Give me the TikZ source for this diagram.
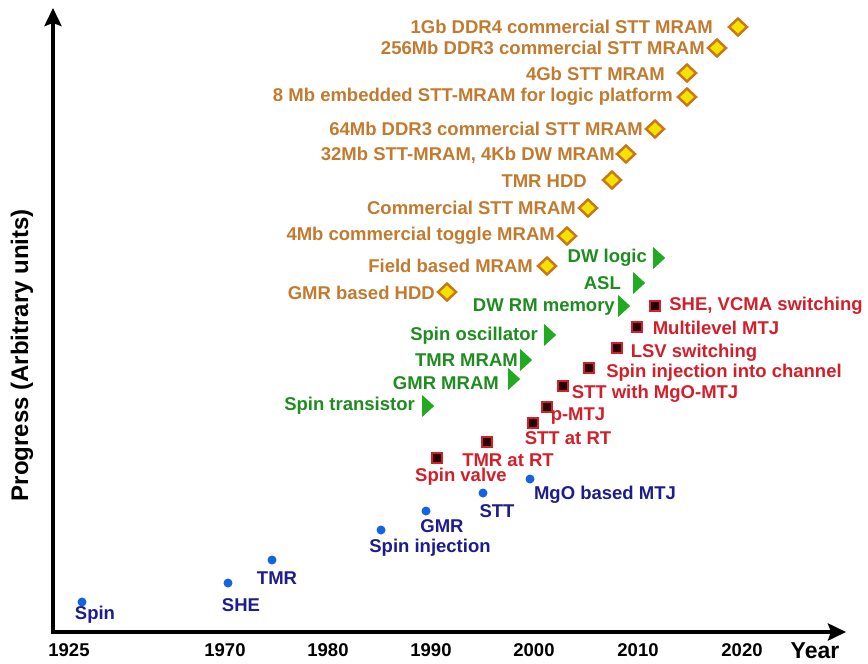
\documentclass[tikz,border=0pt]{standalone}
\usepackage{fontspec}
\setmainfont{Liberation Sans}
\usepackage{tikz}
\usetikzlibrary{arrows.meta}
\usetikzlibrary{shapes.geometric}

\definecolor{devtext}{HTML}{C27A2E}
\definecolor{devedge}{HTML}{C8781A}
\definecolor{devfill}{HTML}{F6E200}
\definecolor{apptext}{HTML}{1E8C1E}
\definecolor{appfill}{HTML}{22AA22}
\definecolor{restext}{HTML}{D21F2A}
\definecolor{phytext}{HTML}{1C1C8C}
\definecolor{phyfill}{HTML}{1464E0}

\begin{document}
\begin{tikzpicture}[x=1pt,y=-1pt]
  \tikzset{lab/.style = {font=\fontsize{18.5}{20}\selectfont\bfseries,inner sep=0pt}}
  \tikzset{devmark/.style = {shape=diamond,draw=devedge,fill=devfill,line width=2.5pt,minimum width=19pt,minimum height=18pt,inner sep=0pt}}
  \tikzset{appmark/.style = {shape=isosceles triangle,isosceles triangle stretches,fill=appfill,minimum width=22pt,minimum height=12pt,inner sep=0pt}}
  \tikzset{resmark/.style = {shape=rectangle,draw=restext,fill=black!85!red,line width=2pt,minimum size=10pt,inner sep=0pt}}
  \tikzset{phymark/.style = {shape=circle,fill=phyfill,minimum size=9pt,inner sep=0pt}}
  \tikzset{axis/.style = {line width=4pt,{Stealth[length=18pt,width=17pt,inset=3pt]}-{Stealth[length=18pt,width=17pt,inset=3pt]}}}

  \useasboundingbox (0,0) rectangle (868,664);

  % axes
  \coordinate (O) at (53,632);
  \coordinate (ytip) at (53,8);
  \coordinate (xtip) at (846,632);
  \draw[axis] (ytip) -- (O) -- (xtip);
  \node[font=\fontsize{24}{26}\selectfont\bfseries,rotate=90] (ylab) at (22,355) {Progress (Arbitrary units)};
  \node[font=\fontsize{23}{25}\selectfont\bfseries] (xlab) at (815,651) {Year};
  \foreach \x/\yr in {69/1925, 225/1970, 328/1980, 431/1990, 534/2000, 638/2010, 742/2020}
    \node[font=\fontsize{18.5}{20}\selectfont\bfseries] (t\yr) at (\x,650) {\yr};

  % devices
  \foreach \x/\y/\lx/\ly/\t [count=\i] in {738/27/713/27/1Gb DDR4 commercial STT MRAM,
      717/48/705/48/256Mb DDR3 commercial STT MRAM, 687/73/665/74/4Gb STT MRAM,
      687/97/673/97/8 Mb embedded STT-MRAM for logic platform,
      655/129/643/129/64Mb DDR3 commercial STT MRAM, 626/154/615/155/{32Mb STT-MRAM, 4Kb DW MRAM},
      612/180/587/181/TMR HDD, 588/208/576/208/Commercial STT MRAM,
      567/236/555/236/4Mb commercial toggle MRAM, 547/266/533/266/Field based MRAM,
      447/292/435/293/GMR based HDD}
  {
    \node[devmark] (dev\i) at (\x,\y) {};
    \node[lab,text=devtext,anchor=east] (devlab\i) at (\lx,\ly) {\t};
  }

  % applications
  \foreach \x/\y/\lx/\ly/\t [count=\i] in {658/258/647/258/DW logic, 638/283/621/283/ASL,
      623/306/615/307/DW RM memory, 549/335/538/336/Spin oscillator, 525/360/518/360/TMR MRAM,
      513/379/499/383/GMR MRAM, 427/406/415/406/Spin transistor}
  {
    \node[appmark] (app\i) at (\x,\y) {};
    \node[lab,text=apptext,anchor=east] (applab\i) at (\lx,\ly) {\t};
  }

  % research
  \foreach \x/\y/\lx/\ly/\t [count=\i] in {437/458/461/477/Spin valve, 487/442/508/460/TMR at RT,
      533/423/568/438/STT at RT, 547/407/578/416/p-MTJ, 563/386/655/394/STT with MgO-MTJ,
      589/368/724/373/Spin injection into channel, 617/348/694/353/LSV switching,
      637/327/716/328/Multilevel MTJ, 655/306/766/306/{SHE, VCMA switching}}
  {
    \node[resmark] (res\i) at (\x,\y) {};
    \node[lab,text=restext] (reslab\i) at (\lx,\ly) {\t};
  }

  % physics
  \foreach \x/\y/\lx/\ly/\t [count=\i] in {82/602/95/615/Spin, 228/583/241/605/SHE, 272/560/277/578/TMR,
      381/530/430/548/Spin injection, 426/511/442/526/GMR, 483/493/497/511/STT,
      530/479/605/495/MgO based MTJ}
  {
    \node[phymark] (phy\i) at (\x,\y) {};
    \node[lab,text=phytext] (phylab\i) at (\lx,\ly) {\t};
  }
\end{tikzpicture}
\end{document}
